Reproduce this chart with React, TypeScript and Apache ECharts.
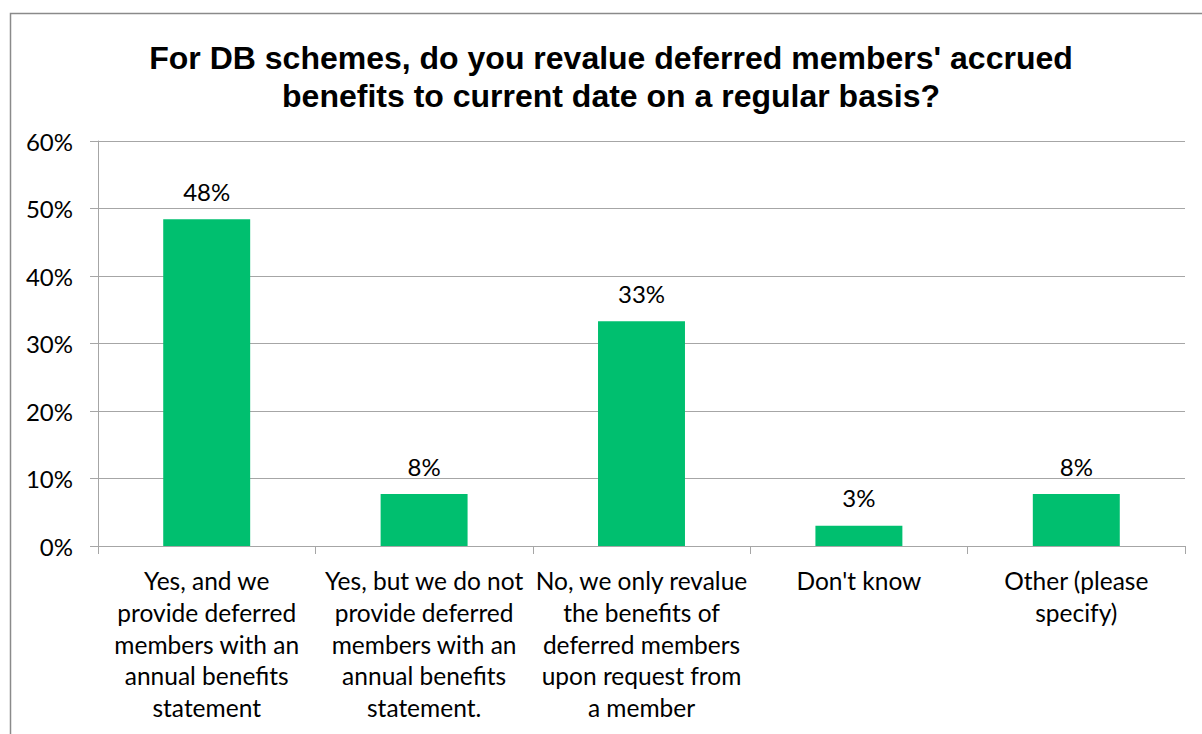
import React, { useEffect, useRef } from "react";
import * as echarts from "echarts";

const titleText =
  "For DB schemes, do you revalue deferred members' accrued\nbenefits to current date on a regular basis?";
const categories = [
  "Yes, and we\nprovide deferred\nmembers with an\nannual benefits\nstatement",
  "Yes, but we do not\nprovide deferred\nmembers with an\nannual benefits\nstatement.",
  "No, we only revalue\nthe benefits of\ndeferred members\nupon request from\na member",
  "Don't know",
  "Other (please\nspecify)",
];
const values = [48.4, 7.7, 33.3, 3.0, 7.7];
const yTicks = { min: 0, max: 60, interval: 10 };

export default function App() {
  const ref = useRef<HTMLDivElement>(null);
  useEffect(() => {
    document.body.style.margin = "0";
    if (!ref.current) return;
    const chart = echarts.init(ref.current, undefined, { renderer: "svg" });
    const font = "Lato, 'Open Sans', sans-serif";
    chart.setOption({
      animation: false,
      backgroundColor: "#ffffff",
      title: {
        text: titleText,
        left: 606,
        textAlign: "center",
        top: 34,
        textStyle: {
          fontFamily: "'Liberation Sans', Arial, sans-serif",
          fontWeight: "bold",
          fontSize: 32,
          lineHeight: 38,
          color: "#000000",
        },
      },
      graphic: [
        {
          type: "polyline",
          shape: { points: [[10.5, 734], [10.5, 13.5], [1202, 13.5]] },
          style: { stroke: "#8a8a8a", lineWidth: 1.5, fill: null },
          silent: true,
        },
      ],
      grid: { left: 98, right: 17, top: 141, bottom: 188, containLabel: false },
      xAxis: {
        type: "category",
        data: categories,
        axisLine: { show: true, lineStyle: { color: "#a6a6a6", width: 1 } },
        axisTick: { show: true, length: 8, lineStyle: { color: "#a6a6a6" } },
        axisLabel: {
          interval: 0,
          margin: 19,
          fontFamily: font,
          fontSize: 24.5,
          lineHeight: 31.6,
          color: "#000000",
          align: "center",
        },
      },
      yAxis: {
        type: "value",
        min: yTicks.min,
        max: yTicks.max,
        interval: yTicks.interval,
        axisLine: { show: true, lineStyle: { color: "#a6a6a6", width: 1 } },
        axisTick: { show: true, length: 8, lineStyle: { color: "#a6a6a6" } },
        splitLine: { show: true, lineStyle: { color: "#a6a6a6", width: 1 } },
        axisLabel: {
          formatter: "{value}%",
          margin: 25,
          fontFamily: font,
          fontSize: 24,
          color: "#000000",
        },
      },
      series: [
        {
          type: "bar",
          data: values,
          barWidth: "40%",
          itemStyle: { color: "#00bf6f" },
          label: {
            show: true,
            position: "top",
            distance: 16,
            fontFamily: font,
            fontSize: 24,
            color: "#000000",
            formatter: (p: any) => Math.round(p.value) + "%",
          },
        },
      ],
    });
    return () => chart.dispose();
  }, []);
  return <div ref={ref} style={{ width: 1202, height: 734 }} />;
}
